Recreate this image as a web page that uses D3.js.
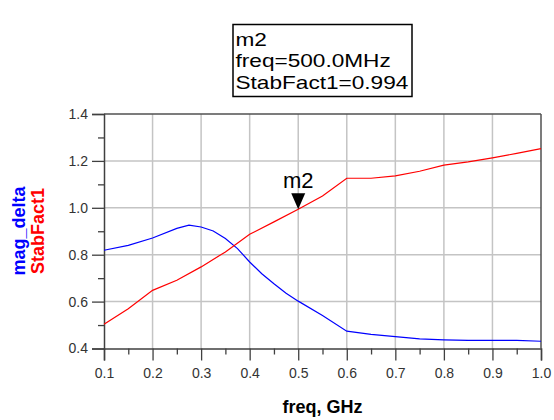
<!DOCTYPE html>
<html>
<head>
<meta charset="utf-8">
<script src="https://cdn.jsdelivr.net/npm/d3@7"></script>
<style>
  html, body { margin: 0; padding: 0; background: #fff; }
  svg { display: block; }
  text { font-family: "Liberation Sans", Arial, sans-serif; }
</style>
</head>
<body>
<svg id="chart" width="554" height="420"></svg>
<script>
// ---- data ----
const freqBlue = [0.1, 0.15, 0.2, 0.25, 0.275, 0.3, 0.325, 0.35, 0.375, 0.4, 0.425, 0.45, 0.475, 0.5, 0.55, 0.6, 0.65, 0.7, 0.75, 0.8, 0.85, 0.9, 0.95, 1.0];
const magDelta = [0.819, 0.840, 0.871, 0.912, 0.926, 0.918, 0.901, 0.869, 0.826, 0.769, 0.719, 0.676, 0.636, 0.602, 0.541, 0.474, 0.460, 0.451, 0.441, 0.437, 0.435, 0.435, 0.435, 0.431];
const freqRed = [0.1, 0.15, 0.2, 0.25, 0.3, 0.35, 0.4, 0.45, 0.5, 0.55, 0.6, 0.65, 0.7, 0.75, 0.8, 0.85, 0.9, 0.95, 1.0];
const stabFact1 = [0.503, 0.570, 0.648, 0.691, 0.748, 0.812, 0.887, 0.940, 0.994, 1.050, 1.126, 1.126, 1.136, 1.156, 1.182, 1.196, 1.213, 1.232, 1.252];
const xTicks = [0.1, 0.2, 0.3, 0.4, 0.5, 0.6, 0.7, 0.8, 0.9, 1.0];
const xMinorTicks = [0.15, 0.25, 0.35, 0.45, 0.55, 0.65, 0.75, 0.85, 0.95];
const yTicks = [0.4, 0.6, 0.8, 1.0, 1.2, 1.4];
const yMinorTicks = [0.5, 0.7, 0.9, 1.1, 1.3];
const markerName = "m2";
const markerFreq = 0.5;
const markerValue = 0.994;
const markerLines = ["m2", "freq=500.0MHz", "StabFact1=0.994"];

// ---- layout ----
const svg = d3.select("#chart");
const L = 104, R = 541, T = 114, B = 348.5;
const x = d3.scaleLinear().domain([0.1, 1.0]).range([L, R]);
const y = d3.scaleLinear().domain([0.4, 1.4]).range([B, T]);

svg.append("rect").attr("width", 554).attr("height", 420).attr("fill", "#fff");

// grid
const grid = svg.append("g");
grid.selectAll(".gx").data(xTicks.slice(1, -1)).join("line")
  .attr("x1", d => x(d)).attr("x2", d => x(d)).attr("y1", T).attr("y2", B)
  .attr("stroke", "#c4c4c4").attr("stroke-width", 1.5);
grid.selectAll(".gy").data(yTicks.slice(1, -1)).join("line")
  .attr("y1", d => y(d)).attr("y2", d => y(d)).attr("x1", L).attr("x2", R)
  .attr("stroke", "#c4c4c4").attr("stroke-width", 1.5);

// frame top/right
svg.append("line").attr("x1", L).attr("x2", R).attr("y1", T).attr("y2", T)
  .attr("stroke", "#505050").attr("stroke-width", 1.5);
svg.append("line").attr("x1", R).attr("x2", R).attr("y1", T).attr("y2", B)
  .attr("stroke", "#505050").attr("stroke-width", 1.5);

// axes
const xAxis = d3.axisBottom(x).tickValues(xTicks).tickFormat(d3.format(".1f")).tickSize(12).tickPadding(8);
svg.append("g").attr("transform", `translate(0,${B})`).call(xAxis);
const xMinor = d3.axisBottom(x).tickValues(xMinorTicks).tickFormat("").tickSize(6);
svg.append("g").attr("transform", `translate(0,${B})`).call(xMinor).select(".domain").remove();

const yAxis = d3.axisLeft(y).tickValues(yTicks).tickFormat(d3.format(".1f")).tickSize(12).tickPadding(4);
svg.append("g").attr("transform", `translate(${L},0)`).call(yAxis);
const yMinor = d3.axisLeft(y).tickValues(yMinorTicks).tickFormat("").tickSize(6);
svg.append("g").attr("transform", `translate(${L},0)`).call(yMinor).select(".domain").remove();

svg.selectAll(".domain").attr("stroke", "#404040").attr("stroke-width", 1.5);
svg.selectAll(".tick line").attr("stroke", "#404040").attr("stroke-width", 1.3);
svg.selectAll(".tick text").attr("font-size", 14).attr("fill", "#333")
  .style("font-family", '"Liberation Sans", Arial, sans-serif');

// lines
const lineGen = d3.line().x(d => x(d[0])).y(d => y(d[1]));
svg.append("path").datum(d3.zip(freqBlue, magDelta)).attr("d", lineGen)
  .attr("fill", "none").attr("stroke", "#0000ff").attr("stroke-width", 1.2);
svg.append("path").datum(d3.zip(freqRed, stabFact1)).attr("d", lineGen)
  .attr("fill", "none").attr("stroke", "#ff0000").attr("stroke-width", 1.2);

// marker
const mx = x(markerFreq), my = y(markerValue);
svg.append("path")
  .attr("d", `M${mx - 7},${my - 16} L${mx + 7},${my - 16} L${mx},${my} Z`)
  .attr("fill", "#000");
svg.append("text").attr("x", mx).attr("y", my - 21).attr("text-anchor", "middle")
  .attr("font-size", 22).attr("fill", "#000").text(markerName);

// marker readout box
svg.append("rect").attr("x", 233).attr("y", 24.5).attr("width", 179).attr("height", 72)
  .attr("fill", "#fff").attr("stroke", "#000").attr("stroke-width", 1.5);
const mt = svg.selectAll(".mtext").data(markerLines).join("text")
  .attr("x", 235.5).attr("y", (d, i) => 45.5 + i * 21.7)
  .attr("font-size", 19).attr("fill", "#000").text(d => d);
mt.each(function () {
  const w = this.getComputedTextLength();
  d3.select(this).attr("textLength", w * 1.19).attr("lengthAdjust", "spacingAndGlyphs");
});

// axis labels
svg.append("text").attr("x", (L + R) / 2).attr("y", 413).attr("text-anchor", "middle")
  .attr("font-size", 18).attr("font-weight", "bold").attr("fill", "#000").text("freq, GHz");
svg.append("text").attr("transform", `translate(25,231) rotate(-90)`).attr("text-anchor", "middle")
  .attr("font-size", 18).attr("font-weight", "bold").attr("fill", "#0000ff").text("mag_delta");
svg.append("text").attr("transform", `translate(44,231) rotate(-90)`).attr("text-anchor", "middle")
  .attr("font-size", 18).attr("font-weight", "bold").attr("fill", "#ff0000").text("StabFact1");
</script>
</body>
</html>
